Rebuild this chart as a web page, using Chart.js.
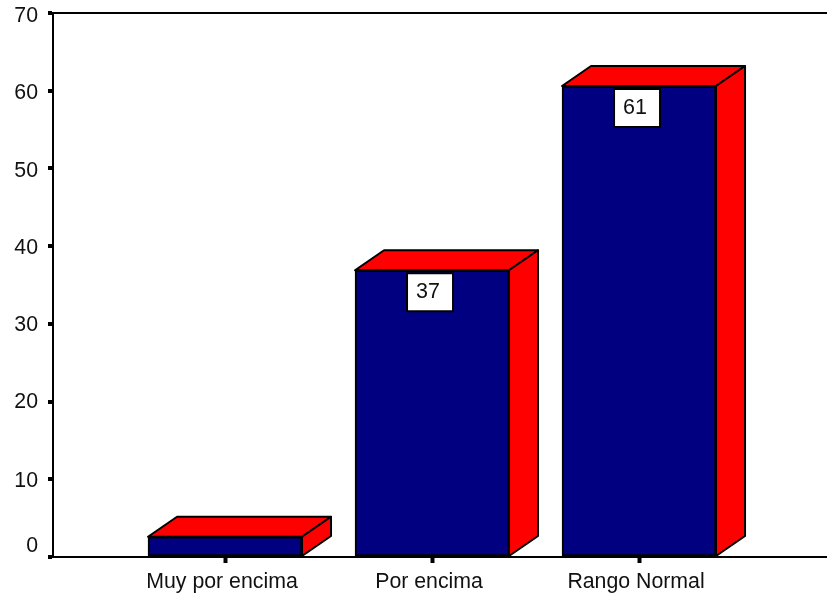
<!DOCTYPE html>
<html>
<head>
<meta charset="utf-8">
<style>html,body{margin:0;padding:0;background:#fff}canvas{display:block}</style>
<script src="https://cdn.jsdelivr.net/npm/chart.js@4"></script>
</head>
<body>
<canvas id="c" width="827" height="594"></canvas>
<script>
const categories = ["Muy por encima", "Por encima", "Rango Normal"];
const values = [2.6, 36.9, 60.6];
const barLabels = [null, "37", "61"];
const yTickNudge = {0: -11, 10: 2, 20: 1, 30: 1, 40: 2, 50: 3, 60: 2, 70: 3};

const FONT = '"Liberation Sans", Arial, sans-serif';
const depthX = 29, depthY = 20;

const bar3d = {
  id: 'bar3d',
  beforeDraw(chart) {
    const y = chart.scales.y;
    const items = y.getLabelItems();
    items.forEach((it, i) => {
      const v = y.ticks[i].value;
      if (!it._n && yTickNudge[v]) { it.options.translation[1] += yTickNudge[v]; }
      it._n = true;
    });
  },
  afterDatasetsDraw(chart) {
    const c = chart.ctx, meta = chart.getDatasetMeta(0);
    c.save();
    c.lineWidth = 2; c.strokeStyle = '#000'; c.lineJoin = 'round';
    meta.data.forEach((b, i) => {
      const l = b.x - b.width / 2, r = b.x + b.width / 2, t = b.y, bt = b.base;
      c.fillStyle = '#ff0000';
      c.beginPath();
      c.moveTo(l, t); c.lineTo(l + depthX, t - depthY); c.lineTo(r + depthX, t - depthY); c.lineTo(r, t);
      c.closePath(); c.fill(); c.stroke();
      c.beginPath();
      c.moveTo(r, t); c.lineTo(r + depthX, t - depthY); c.lineTo(r + depthX, bt - depthY); c.lineTo(r, bt);
      c.closePath(); c.fill(); c.stroke();
      if (barLabels[i]) {
        const w = 46, h = 38, bx = b.x - 2 - w / 2, by = t + 3;
        c.fillStyle = '#fff';
        c.fillRect(bx, by, w, h); c.strokeRect(bx, by, w, h);
        c.fillStyle = '#111';
        c.font = '21.5px ' + FONT;
        c.textAlign = 'center'; c.textBaseline = 'middle';
        c.fillText(barLabels[i], bx + w / 2 - 2, by + h / 2);
      }
    });
    c.restore();
  }
};

new Chart(document.getElementById('c'), {
  type: 'bar',
  data: {
    datasets: [{
      data: values.map((v, i) => ({x: i, y: v})),
      backgroundColor: '#000080',
      borderColor: '#000',
      borderWidth: 2,
      borderSkipped: false,
      barThickness: 154
    }]
  },
  plugins: [bar3d],
  options: {
    responsive: false,
    animation: false,
    layout: {padding: {top: 13, right: 0, left: 0, bottom: 0}},
    plugins: {legend: {display: false}, tooltip: {enabled: false}, title: {display: false}},
    scales: {
      x: {
        type: 'linear',
        offset: false,
        min: -0.831, max: 2.908,
        afterBuildTicks(s) { s.ticks = categories.map((_, i) => ({value: i})); },
        afterFit(s) { s.height = 37; s.paddingLeft = 0; s.paddingRight = 0; },
        border: {display: true, color: '#000', width: 2},
        grid: {offset: false, drawOnChartArea: false, drawTicks: true, tickLength: 6, tickWidth: 4, tickColor: '#000'},
        ticks: {
          color: '#111', font: {family: FONT, size: 21.3}, padding: 6, labelOffset: -3, maxRotation: 0, autoSkip: false,
          callback: v => categories[v]
        }
      },
      y: {
        min: 0, max: 70,
        afterFit(s) { s.width = 53; s.paddingTop = 0; s.paddingBottom = 0; },
        border: {display: true, color: '#000', width: 2},
        grid: {
          drawTicks: true, tickLength: 5, tickWidth: 4, tickColor: '#000', lineWidth: 2,
          color: ctx => ctx.tick && ctx.tick.value === 70 ? '#000' : 'rgba(0,0,0,0)'
        },
        ticks: {color: '#111', font: {family: FONT, size: 21.3}, padding: 10, stepSize: 10}
      }
    }
  }
});
</script>
</body>
</html>
